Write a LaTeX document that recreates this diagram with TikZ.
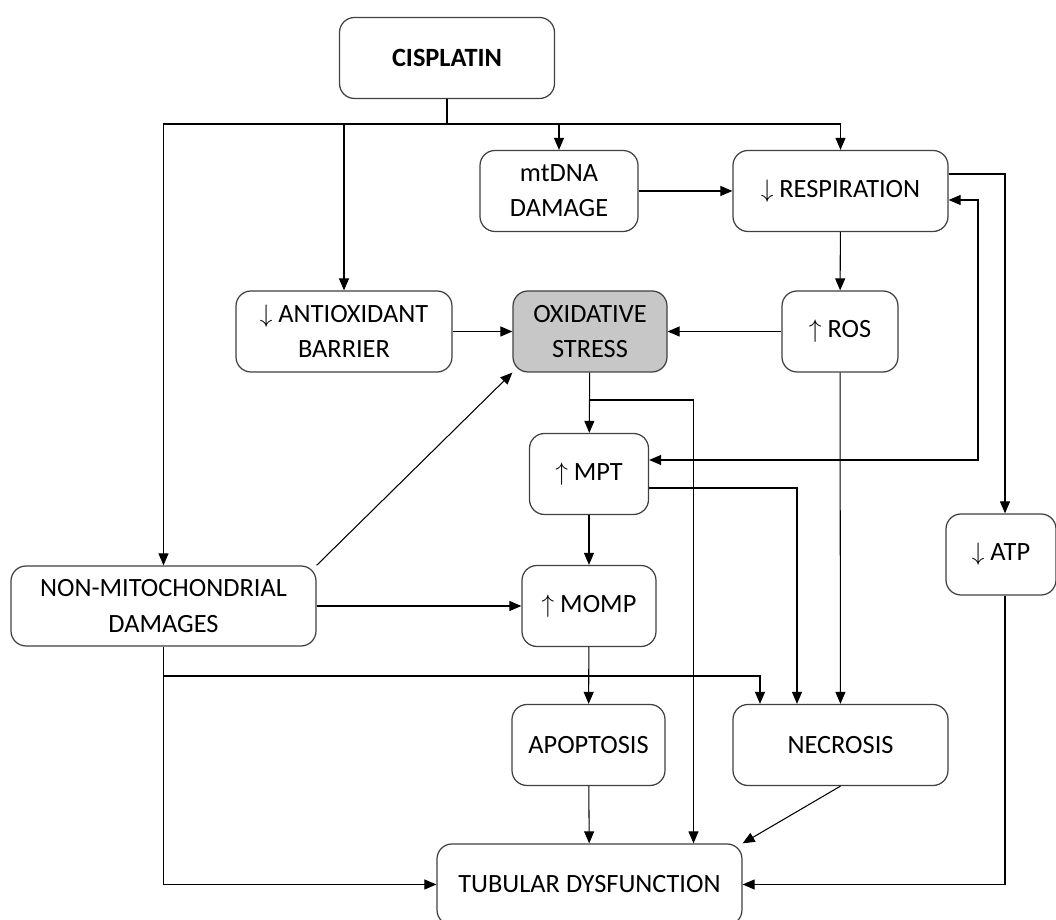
\documentclass[tikz,border=0pt]{standalone}
\usepackage{fontspec}
\setmainfont{Carlito}
\usetikzlibrary{arrows.meta, positioning, calc}

\begin{document}
\begin{tikzpicture}[
  box/.style={draw=black!75, line width=0.7pt, rounded corners=0.3cm, minimum height=1.62cm, align=center, fill=white, font=\fontsize{15}{20}\selectfont},
  hot/.style={box, fill=black!22},
  arr/.style={-{Triangle[length=2.4mm, width=2mm]}, line width=0.6pt},
  arrboth/.style={{Triangle[length=2.4mm, width=2mm]}-{Triangle[length=2.4mm, width=2mm]}, line width=0.6pt},
]
\useasboundingbox (0,0) rectangle (21.12,18.4);
% boxes
\node[box, minimum width=4.3cm, font=\fontsize{15}{20}\selectfont\bfseries] (cis) at (8.94,17.24) {CISPLATIN};
\node[box, minimum width=3.16cm] (mtdna) at (11.18,14.58) {mtDNA\\DAMAGE};
\node[box, minimum width=4.3cm] (resp) at (16.81,14.58) {$\downarrow$ RESPIRATION};
\node[box, minimum width=4.32cm] (antiox) at (6.88,11.77) {$\downarrow$ ANTIOXIDANT\\BARRIER};
\node[hot, minimum width=3.08cm] (oxs) at (11.8,11.77) {OXIDATIVE\\STRESS};
\node[box, minimum width=2.32cm] (ros) at (16.8,11.77) {$\uparrow$ ROS};
\node[box, minimum width=2.38cm] (mpt) at (11.78,8.92) {$\uparrow$ MPT};
\node[box, minimum width=2.2cm] (atp) at (20.02,7.31) {$\downarrow$ ATP};
\node[box, minimum width=6.1cm, minimum height=1.6cm] (nonmito) at (3.27,6.28) {NON-MITOCHONDRIAL\\DAMAGES};
\node[box, minimum width=2.68cm] (momp) at (11.78,6.28) {$\uparrow$ MOMP};
\node[box, minimum width=3.06cm] (apop) at (11.77,3.5) {APOPTOSIS};
\node[box, minimum width=4.3cm] (necr) at (16.81,3.5) {NECROSIS};
\node[box, minimum width=6.1cm] (tub) at (11.79,0.71) {TUBULAR DYSFUNCTION};

% split points
\coordinate (split) at (8.94,15.92);
\coordinate (oxbr) at (11.8,10.4);
\coordinate (nmbr) at (3.27,4.88);
\coordinate (rx) at (19.56,0);

% from cisplatin
\draw[line width=0.6pt] (cis) -- (split);
\draw[arr] (split) -| (nonmito);
\draw[arr] (split) -| (antiox);
\draw[arr] (split) -| (mtdna);
\draw[arr] (split) -| (resp);

% upper row
\draw[arr] (mtdna) -- (resp);
\draw[arr] (resp) -- (ros);
\draw[arr] ([yshift=0.34cm]resp.east) -| ([xshift=0.08cm]atp.north);
\draw[arrboth] ([yshift=0.28cm]mpt.east) -- ([yshift=0.28cm]mpt.east -| rx) -- ([yshift=-0.18cm]resp.east -| rx) -- ([yshift=-0.18cm]resp.east);
\draw[arr] (antiox) -- (oxs);
\draw[arr] (ros) -- (oxs);
\draw[arr] (ros) -- (necr);

% middle
\draw[arr] (oxs) -- (mpt);
\draw[arr] (oxbr) -| ([xshift=2.08cm]tub.north);
\draw[arr] (mpt) -- (momp);
\draw[arr] ([yshift=-0.28cm]mpt.east) -| ([xshift=-0.87cm]necr.north);
\draw[arr] (nonmito) -- (momp);
\draw[arr] (nonmito.north east) -- (oxs.south west);

% lower part
\draw[arr] (nonmito) |- (tub);
\draw[arr] (nmbr) -| ([xshift=-1.61cm]necr.north);
\draw[arr] (momp) -- (apop);
\draw[arr] (apop) -- (tub);
\draw[arr] (necr.south) -- (tub.north east);
\draw[arr] ([xshift=0.08cm]atp.south) |- (tub);
\end{tikzpicture}
\end{document}
